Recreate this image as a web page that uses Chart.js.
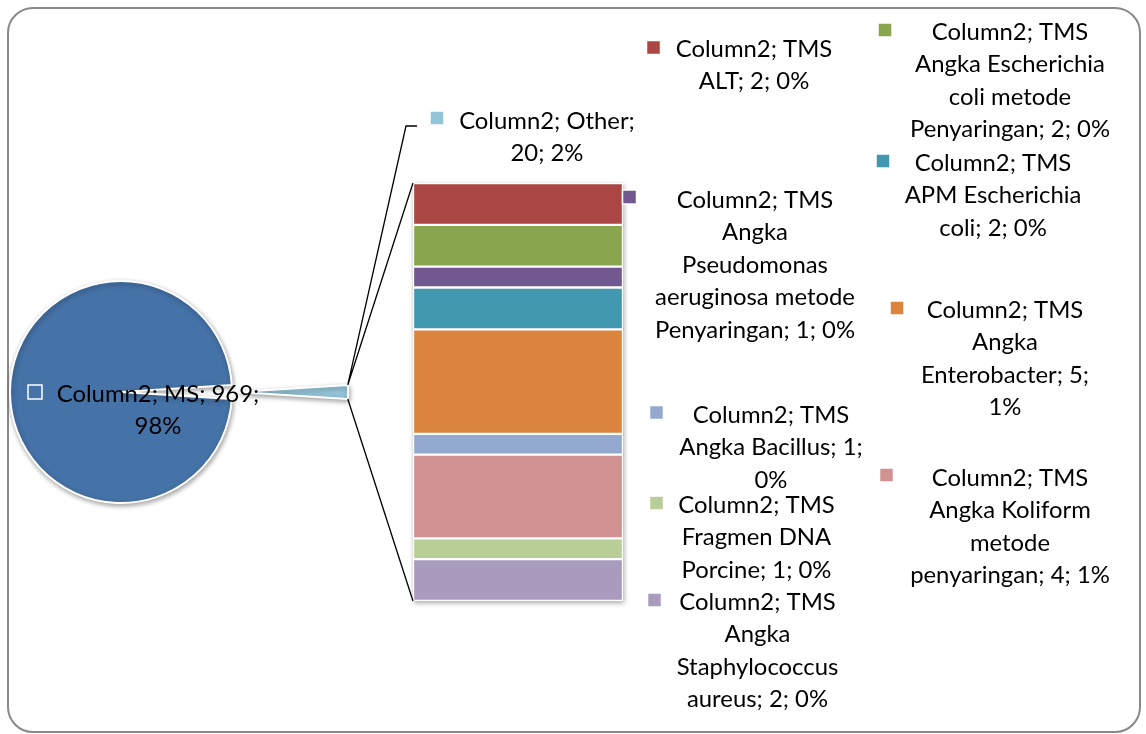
<!DOCTYPE html>
<html>
<head>
<meta charset="utf-8">
<script src="https://cdn.jsdelivr.net/npm/chart.js@4.4.1/dist/chart.umd.min.js"></script>
<style>
  html, body { margin: 0; padding: 0; background: #fff; }
  #wrap { position: relative; width: 1146px; height: 734px; overflow: hidden; }
  #frame { position: absolute; left: 7px; top: 7px; width: 1134px; height: 726px;
           border: 2px solid #898989; border-radius: 26px; box-sizing: border-box; }
  canvas { position: absolute; left: 0; top: 0; }
</style>
</head>
<body>
<div id="wrap">
  <div id="frame"></div>
  <canvas id="pie" width="1146" height="734"></canvas>
  <canvas id="pieOther" width="1146" height="734"></canvas>
  <canvas id="bar" width="1146" height="734"></canvas>
</div>
<script>
// DATA
const seriesName = "Column2";
const mainCat = "MS";
const mainValue = 969;
const otherCat = "Other";

// bar segments, top to bottom
const subCats = [
  "TMS ALT",
  "TMS Angka Escherichia coli metode Penyaringan",
  "TMS Angka Pseudomonas aeruginosa metode Penyaringan",
  "TMS APM Escherichia coli",
  "TMS Angka Enterobacter",
  "TMS Angka Bacillus",
  "TMS Angka Koliform metode penyaringan",
  "TMS Fragmen DNA Porcine",
  "TMS Angka Staphylococcus aureus",
];
const subValues = [2, 2, 1, 2, 5, 1, 4, 1, 2];

// COLORS
const mainColor = "#4572A7";
const otherColor = "#93C4D7";
const subColors = ["#AA4643", "#89A54E", "#71588F", "#4198AF", "#DB843D",
                   "#93A9CF", "#D19392", "#B9CD96", "#A99BBD"];

const otherValue = subValues.reduce((a, b) => a + b, 0);
const total = mainValue + otherValue;

// percentages like excel (largest remainder, sum = 100)
const leaves = [mainValue].concat(subValues);
const raw = leaves.map((v) => (v / total) * 100);
const pct = raw.map(Math.floor);
let missing = 100 - pct.reduce((a, b) => a + b, 0);
raw.map((r, i) => [r - Math.floor(r), i])
  .sort((a, b) => b[0] - a[0])
  .slice(0, missing)
  .forEach((r) => pct[r[1]]++);
const otherPct = Math.round((otherValue / total) * 100);

// LABEL LAYOUT (key center, text center x, first line y, words per line)
const subLabelPos = [
  { key: [653.5, 47.5], cx: 754, y: 48, words: [2, 3] },
  { key: [885, 30], cx: 1010, y: 31, words: [2, 2, 2, 3] },
  { key: [629.5, 197], cx: 755, y: 199, words: [2, 1, 1, 2, 3] },
  { key: [883, 161], cx: 993, y: 162, words: [2, 2, 3] },
  { key: [897, 308], cx: 1005, y: 309, words: [2, 1, 2, 1] },
  { key: [656.5, 412.5], cx: 771, y: 414, words: [2, 3, 1] },
  { key: [886.5, 475], cx: 1010, y: 477, words: [2, 2, 1, 3] },
  { key: [656.5, 503], cx: 756.5, y: 504, words: [2, 2, 3] },
  { key: [654.5, 600], cx: 757.5, y: 601, words: [2, 1, 1, 3] },
];
const otherLabelPos = { key: [437, 118], cx: 547, y: 120, words: [2, 2], leader: [[406, 126], [417, 126]] };
const mainLabelPos = { key: [35, 392], cx: 158, y: 393, words: [3, 1] };
const lineH = 32.5;

function splitLines(text, counts) {
  const w = text.split(" ");
  let i = 0;
  return counts.map((n) => {
    const s = w.slice(i, i + n).join(" ");
    i += n;
    return s;
  });
}

// font size so that "Column2; TMS" is about as wide as in the picture
const fontFamily = "Lato, 'Open Sans', sans-serif";
let fontSize = 26;
(function () {
  const c = document.createElement("canvas").getContext("2d");
  c.font = "26px " + fontFamily;
  fontSize = (26 * 156.5) / c.measureText(seriesName + "; TMS").width;
})();

function drawLabel(ctx, pos, text, color) {
  const lines = splitLines(text, pos.words);
  // key
  ctx.save();
  ctx.fillStyle = color;
  ctx.strokeStyle = "#fff";
  ctx.lineWidth = 1.5;
  ctx.fillRect(pos.key[0] - 7, pos.key[1] - 7, 14, 14);
  ctx.strokeRect(pos.key[0] - 7, pos.key[1] - 7, 14, 14);
  ctx.restore();
  // text
  ctx.save();
  ctx.font = fontSize.toFixed(2) + "px " + fontFamily;
  ctx.fillStyle = "#000";
  ctx.textAlign = "center";
  ctx.textBaseline = "alphabetic";
  lines.forEach((l, i) => {
    ctx.fillText(l, pos.cx, pos.y + i * lineH + fontSize * 0.36);
  });
  ctx.restore();
}

// SHADOW PLUGIN FOR PIE
const pieShadow = {
  id: "pieShadow",
  beforeDatasetsDraw(chart) {
    const ctx = chart.ctx;
    ctx.save();
    ctx.shadowColor = "rgba(0,0,0,0.35)";
    ctx.shadowBlur = 5;
    ctx.shadowOffsetX = 1;
    ctx.shadowOffsetY = 2;
  },
  afterDatasetsDraw(chart) {
    chart.ctx.restore();
  },
};

// PIE: main slice on one canvas, exploded "Other" slice on a second one
const pieCx = 121, pieCy = 392, pieR = 111;
const explode = 116; // shift of the "Other" slice in px
const otherMid = 90; // degrees, pointing right
const clear = "rgba(0,0,0,0)";

function makePie(id, cx, fills, borders) {
  const half = pieR + 10;
  return new Chart(document.getElementById(id).getContext("2d"), {
    type: "pie",
    data: {
      labels: [mainCat, otherCat],
      datasets: [
        {
          data: [mainValue, otherValue],
          backgroundColor: fills,
          borderColor: borders,
          borderWidth: 2,
          clip: false,
        },
      ],
    },
    options: {
      responsive: false,
      animation: false,
      radius: pieR,
      rotation: otherMid - (360 * (mainValue + otherValue / 2)) / total + 360,
      layout: {
        padding: { left: cx - half, right: 1146 - cx - half, top: pieCy - half, bottom: 734 - pieCy - half },
      },
      plugins: {
        legend: { display: false },
        tooltip: { enabled: false },
      },
    },
    plugins: [pieShadow],
  });
}

const pieChart = makePie("pie", pieCx, [mainColor, clear], ["#fff", clear]);
const otherChart = makePie("pieOther", pieCx + explode, [clear, otherColor], [clear, "#fff"]);

// CONNECTORS + LABELS
const overlay = {
  id: "overlay",
  beforeDatasetsDraw(chart) {
    // shadow under the bar
    const ctx = chart.ctx;
    const a = chart.chartArea;
    ctx.save();
    ctx.shadowColor = "rgba(0,0,0,0.35)";
    ctx.shadowBlur = 5;
    ctx.shadowOffsetX = 1;
    ctx.shadowOffsetY = 2;
    ctx.fillStyle = "#fff";
    ctx.fillRect(a.left, a.top, a.right - a.left, a.bottom - a.top);
    ctx.restore();
  },
  afterDraw(chart) {
    const ctx = chart.ctx;
    const a = chart.chartArea;
    const arc = otherChart.getDatasetMeta(0).data[1];
    const p1 = [arc.x + Math.cos(arc.startAngle) * arc.outerRadius, arc.y + Math.sin(arc.startAngle) * arc.outerRadius];
    const p2 = [arc.x + Math.cos(arc.endAngle) * arc.outerRadius, arc.y + Math.sin(arc.endAngle) * arc.outerRadius];
    const top = p1[1] < p2[1] ? p1 : p2;
    const bot = p1[1] < p2[1] ? p2 : p1;

    ctx.save();
    ctx.strokeStyle = "#000";
    ctx.lineWidth = 1.3;
    ctx.beginPath();
    ctx.moveTo(top[0], top[1]);
    ctx.lineTo(a.left, a.top);
    ctx.moveTo(bot[0], bot[1]);
    ctx.lineTo(a.left, a.bottom);
    // leader for "Other"
    ctx.moveTo(top[0], top[1]);
    otherLabelPos.leader.forEach((p) => ctx.lineTo(p[0], p[1]));
    ctx.stroke();
    ctx.restore();

    subCats.forEach((c, i) => {
      const txt = seriesName + "; " + c + "; " + subValues[i] + "; " + pct[i + 1] + "%";
      drawLabel(ctx, subLabelPos[i], txt, subColors[i]);
    });
    drawLabel(ctx, otherLabelPos, seriesName + "; " + otherCat + "; " + otherValue + "; " + otherPct + "%", otherColor);
    drawLabel(ctx, mainLabelPos, seriesName + "; " + mainCat + "; " + mainValue + "; " + pct[0] + "%", mainColor);
  },
};

// BAR (stacked)
new Chart(document.getElementById("bar").getContext("2d"), {
  type: "bar",
  data: {
    labels: [otherCat],
    datasets: subCats.map((c, i) => ({
      label: c,
      data: [subValues[i]],
      backgroundColor: subColors[i],
      borderColor: "#fff",
      borderWidth: 1.5,
      borderSkipped: false,
      categoryPercentage: 1,
      barPercentage: 1,
    })),
  },
  options: {
    responsive: false,
    animation: false,
    layout: { padding: { left: 413, right: 1146 - 623, top: 183, bottom: 734 - 601 } },
    scales: {
      x: { display: false, stacked: true },
      y: { display: false, stacked: true, min: 0, max: otherValue, reverse: true },
    },
    plugins: {
      legend: { display: false },
      tooltip: { enabled: false },
    },
  },
  plugins: [overlay],
});
</script>
</body>
</html>
